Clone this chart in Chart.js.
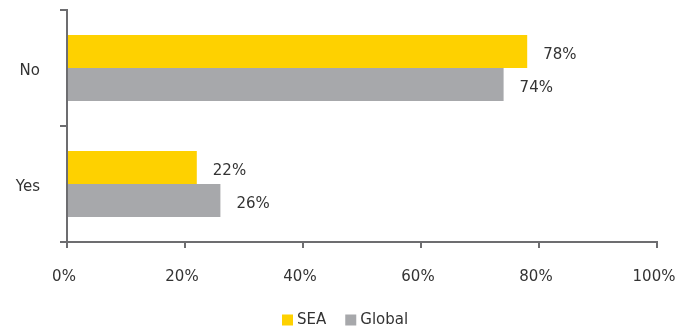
<!DOCTYPE html>
<html>
<head>
<meta charset="utf-8">
<script src="https://cdn.jsdelivr.net/npm/chart.js@4/dist/chart.umd.min.js"></script>
<style>
  html, body { margin: 0; padding: 0; background: #fff; }
  #wrap { width: 692px; height: 330px; }
</style>
</head>
<body>
<div id="wrap"><canvas id="respuestasChart"></canvas></div>
<script>
    const categorias = ['No', 'Yes'];
    const valoresSEA = [78, 22];
    const valoresGlobal = [74, 26];
    const ticksX = [0, 20, 40, 60, 80, 100];

    const textoColor = '#333333';
    const ejeColor = '#6d6d70';
    const fuente = '15px "DejaVu Sans", sans-serif';
    Chart.defaults.font.family = '"DejaVu Sans", sans-serif';
    Chart.defaults.font.size = 15;
    Chart.defaults.color = textoColor;

    // Etiquetas de valor a la derecha de cada barra
    const etiquetasValor = {
        id: 'etiquetasValor',
        afterDatasetsDraw(chart) {
            const ctx = chart.ctx;
            ctx.save();
            ctx.font = fuente;
            ctx.fillStyle = textoColor;
            ctx.textAlign = 'left';
            ctx.textBaseline = 'middle';
            chart.data.datasets.forEach((ds, i) => {
                chart.getDatasetMeta(i).data.forEach((bar, j) => {
                    ctx.fillText(ds.data[j] + '%', bar.x + 16, bar.y + 4);
                });
            });
            ctx.restore();
        }
    };

    // Leyenda compacta centrada bajo el gráfico
    const leyendaInferior = {
        id: 'leyendaInferior',
        afterDraw(chart) {
            const ctx = chart.ctx;
            ctx.save();
            ctx.font = fuente;
            ctx.textBaseline = 'middle';
            ctx.textAlign = 'left';
            const caja = 11, sep = 4, entre = 19;
            const items = chart.data.datasets.map(ds => ({
                texto: ds.label,
                color: ds.backgroundColor,
                ancho: caja + sep + ctx.measureText(ds.label).width
            }));
            const total = items.reduce((s, it) => s + it.ancho, 0) + entre * (items.length - 1);
            let x = Math.round((chart.width - total) / 2) - 1;
            const y = 320;
            items.forEach(it => {
                ctx.fillStyle = it.color;
                ctx.fillRect(x, y - caja / 2, caja, caja);
                ctx.fillStyle = textoColor;
                ctx.fillText(it.texto, x + caja + sep, y);
                x += it.ancho + entre;
            });
            ctx.restore();
        }
    };

    const sinRelleno = (scale) => {
        scale.paddingTop = 0;
        scale.paddingBottom = 0;
        scale.paddingLeft = 0;
        scale.paddingRight = 0;
    };

    const ctx = document.getElementById('respuestasChart').getContext('2d');
    const respuestasChart = new Chart(ctx, {
        type: 'bar',
        data: {
            labels: categorias,
            datasets: [{
                label: 'SEA',
                data: valoresSEA,
                backgroundColor: '#fed100',
                categoryPercentage: 0.57,
                barPercentage: 1.0
            },
            {
                label: 'Global',
                data: valoresGlobal,
                backgroundColor: '#a7a8ab',
                categoryPercentage: 0.57,
                barPercentage: 1.0
            }]
        },
        options: {
            indexAxis: 'y',
            responsive: true,
            maintainAspectRatio: false,
            animation: false,
            layout: {
                autoPadding: false,
                padding: { top: 10, right: 35, left: 0, bottom: 0 }
            },
            scales: {
                x: {
                    min: 0,
                    max: 100,
                    afterBuildTicks: (scale) => {
                        scale.ticks = ticksX.map(v => ({ value: v }));
                    },
                    afterFit: (scale) => { scale.height = 88; sinRelleno(scale); },
                    ticks: {
                        callback: (v) => v + '%',
                        padding: 20,
                        labelOffset: -3,
                        maxRotation: 0
                    },
                    grid: {
                        drawOnChartArea: false,
                        tickLength: 6,
                        color: ejeColor,
                        lineWidth: 2
                    },
                    border: { color: ejeColor, width: 2 }
                },
                y: {
                    afterFit: (scale) => { scale.width = 67; sinRelleno(scale); },
                    ticks: { padding: 20, labelOffset: 3 },
                    grid: {
                        drawOnChartArea: false,
                        tickLength: 7,
                        color: ejeColor,
                        lineWidth: 2
                    },
                    border: { color: ejeColor, width: 2 }
                }
            },
            plugins: {
                legend: { display: false },
                tooltip: { enabled: false }
            }
        },
        plugins: [etiquetasValor, leyendaInferior]
    });
</script>
</body>
</html>
